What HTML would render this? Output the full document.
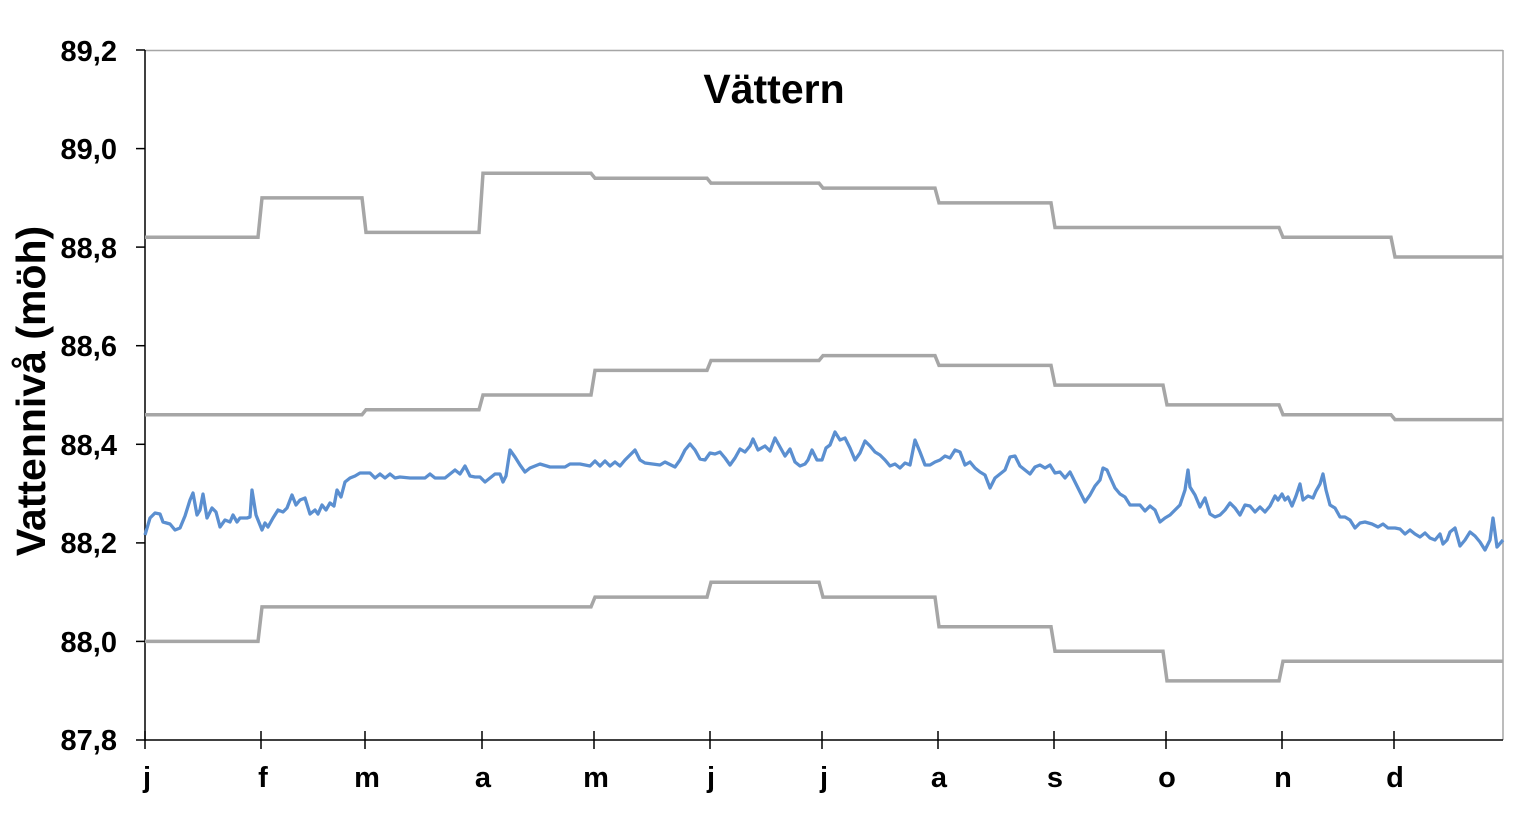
<!DOCTYPE html>
<html><head><meta charset="utf-8"><style>
html,body{margin:0;padding:0;background:#fff}
svg text{font-family:"Liberation Sans",Arial,sans-serif;font-weight:bold;fill:#000}
</style></head><body>
<svg width="1523" height="823" viewBox="0 0 1523 823" xmlns="http://www.w3.org/2000/svg">
<rect width="1523" height="823" fill="#fff"/>
<line x1="145" y1="50.5" x2="1503" y2="50.5" stroke="#a6a6a6" stroke-width="1.5"/>
<line x1="1503" y1="50" x2="1503" y2="740" stroke="#a6a6a6" stroke-width="1.5"/>
<line x1="145" y1="50" x2="145" y2="741" stroke="#000" stroke-width="1.5"/>
<line x1="136" y1="740" x2="1503" y2="740" stroke="#000" stroke-width="1.5"/>
<g stroke="#000" stroke-width="1.5">
<line x1="136" y1="50" x2="145" y2="50"/><line x1="136" y1="148.6" x2="145" y2="148.6"/>
<line x1="136" y1="247.1" x2="145" y2="247.1"/><line x1="136" y1="345.7" x2="145" y2="345.7"/>
<line x1="136" y1="444.3" x2="145" y2="444.3"/><line x1="136" y1="542.9" x2="145" y2="542.9"/>
<line x1="136" y1="641.4" x2="145" y2="641.4"/>
<line x1="145" y1="731" x2="145" y2="749"/><line x1="261" y1="731" x2="261" y2="749"/>
<line x1="365" y1="731" x2="365" y2="749"/><line x1="482" y1="731" x2="482" y2="749"/>
<line x1="594" y1="731" x2="594" y2="749"/><line x1="710" y1="731" x2="710" y2="749"/>
<line x1="822" y1="731" x2="822" y2="749"/><line x1="938" y1="731" x2="938" y2="749"/>
<line x1="1054" y1="731" x2="1054" y2="749"/><line x1="1166" y1="731" x2="1166" y2="749"/>
<line x1="1282" y1="731" x2="1282" y2="749"/><line x1="1394" y1="731" x2="1394" y2="749"/>
</g>
<g font-size="29" text-anchor="end">
<text x="117" y="61">89,2</text><text x="117" y="159">89,0</text><text x="117" y="258">88,8</text>
<text x="117" y="356">88,6</text><text x="117" y="455">88,4</text><text x="117" y="553">88,2</text>
<text x="117" y="652">88,0</text><text x="117" y="750">87,8</text>
</g>
<g font-size="29" text-anchor="middle">
<text x="147" y="787">j</text><text x="263" y="787">f</text><text x="367" y="787">m</text>
<text x="483" y="787">a</text><text x="596" y="787">m</text><text x="711" y="787">j</text>
<text x="824" y="787">j</text><text x="939" y="787">a</text><text x="1055" y="787">s</text>
<text x="1167" y="787">o</text><text x="1283" y="787">n</text><text x="1395" y="787">d</text>
</g>
<text x="774" y="103" font-size="41" text-anchor="middle">Vättern</text>
<text transform="translate(45,391) rotate(-90)" font-size="41" text-anchor="middle">Vattennivå (möh)</text>
<g fill="none" stroke="#a6a6a6" stroke-width="3.5">
<polyline points="145,237.3 258,237.3 262,197.9 362,197.9 366,232.4 479,232.4 483,173.3 591,173.3 595,178.2 707,178.2 711,183.1 819,183.1 823,188.1 935,188.1 939,202.9 1051,202.9 1055,227.5 1163,227.5 1167,227.5 1279,227.5 1283,237.3 1391,237.3 1395,257 1503,257"/>
<polyline points="145,414.7 362,414.7 366,409.8 479,409.8 483,395 591,395 595,370.4 707,370.4 711,360.5 819,360.5 823,355.6 935,355.6 939,365.4 1051,365.4 1055,385.1 1163,385.1 1167,404.9 1279,404.9 1283,414.7 1391,414.7 1395,419.6 1503,419.6"/>
<polyline points="145,641.4 258,641.4 262,606.9 591,606.9 595,597.1 707,597.1 711,582.3 819,582.3 823,597.1 935,597.1 939,626.7 1051,626.7 1055,651.3 1163,651.3 1167,680.9 1279,680.9 1283,661.2 1503,661.2"/>
</g>
<polyline fill="none" stroke="#5b8fd0" stroke-width="3.3" stroke-linejoin="round" points="145,535 150,518 155,513 160,514 163,522 170,524 175,530 180,528 185,516 190,500 193,493 197,515 200,510 203,494 207,518 212,508 216,512 220,527 225,520 230,522 233,515 237,522 240,518 247,518 250,517 252,490 256,515 262,530 265,523 268,527 273,518 278,510 283,512 287,508 292,495 296,505 300,500 305,498 310,514 315,510 318,514 322,505 326,510 330,503 334,506 337,490 341,497 345,482 350,478 355,476 360,473 370,473 375,478 380,474 385,478 390,474 395,478 400,477 410,478 425,478 430,474 435,478 445,478 450,474 455,470 460,474 465,466 470,476 475,477 480,477 485,482 490,478 495,474 500,474 503,482 506,476 510,450 515,457 520,465 525,472 530,468 535,466 540,464 550,467 565,467 570,464 580,464 590,466 595,461 600,466 605,461 610,466 615,462 620,466 625,460 630,455 635,450 640,460 645,463 660,465 665,462 675,467 680,460 685,450 690,444 695,450 700,459 705,460 710,453 715,454 720,452 725,458 730,465 735,458 740,449 745,452 750,446 753,439 758,450 765,446 770,451 775,438 780,447 785,456 790,449 795,462 800,466 805,464 808,460 812,450 817,460 822,460 826,448 830,445 835,432 840,440 845,438 850,448 855,460 860,453 865,441 870,446 875,452 880,455 885,460 890,466 895,464 900,468 905,463 910,465 915,440 920,452 925,465 930,465 935,462 940,460 945,456 950,458 955,450 960,452 965,465 970,462 975,468 980,472 985,475 990,488 995,478 1000,474 1005,470 1010,457 1015,456 1020,466 1025,470 1030,474 1035,467 1040,465 1045,468 1050,465 1055,473 1060,472 1065,478 1070,472 1075,482 1080,492 1085,502 1090,495 1095,486 1100,480 1103,468 1107,470 1110,477 1115,488 1120,494 1125,497 1130,505 1140,505 1145,511 1150,506 1155,510 1160,522 1165,518 1170,515 1175,510 1180,505 1185,490 1188,470 1190,487 1195,495 1200,507 1205,498 1210,514 1215,517 1220,515 1225,510 1230,503 1235,508 1240,515 1245,505 1250,506 1255,512 1260,507 1265,512 1270,506 1275,496 1278,500 1282,494 1285,500 1288,497 1292,506 1296,496 1300,484 1303,500 1308,496 1313,498 1316,491 1320,484 1323,474 1326,490 1330,505 1335,508 1340,517 1345,517 1350,520 1355,528 1360,523 1365,522 1372,524 1378,527 1383,524 1388,528 1395,528 1400,529 1405,534 1410,530 1415,534 1420,537 1425,533 1430,538 1435,540 1440,534 1443,544 1447,540 1450,532 1455,528 1460,546 1465,540 1470,532 1475,536 1480,542 1485,550 1490,540 1493,518 1497,547 1503,540"/>
</svg>
</body></html>
